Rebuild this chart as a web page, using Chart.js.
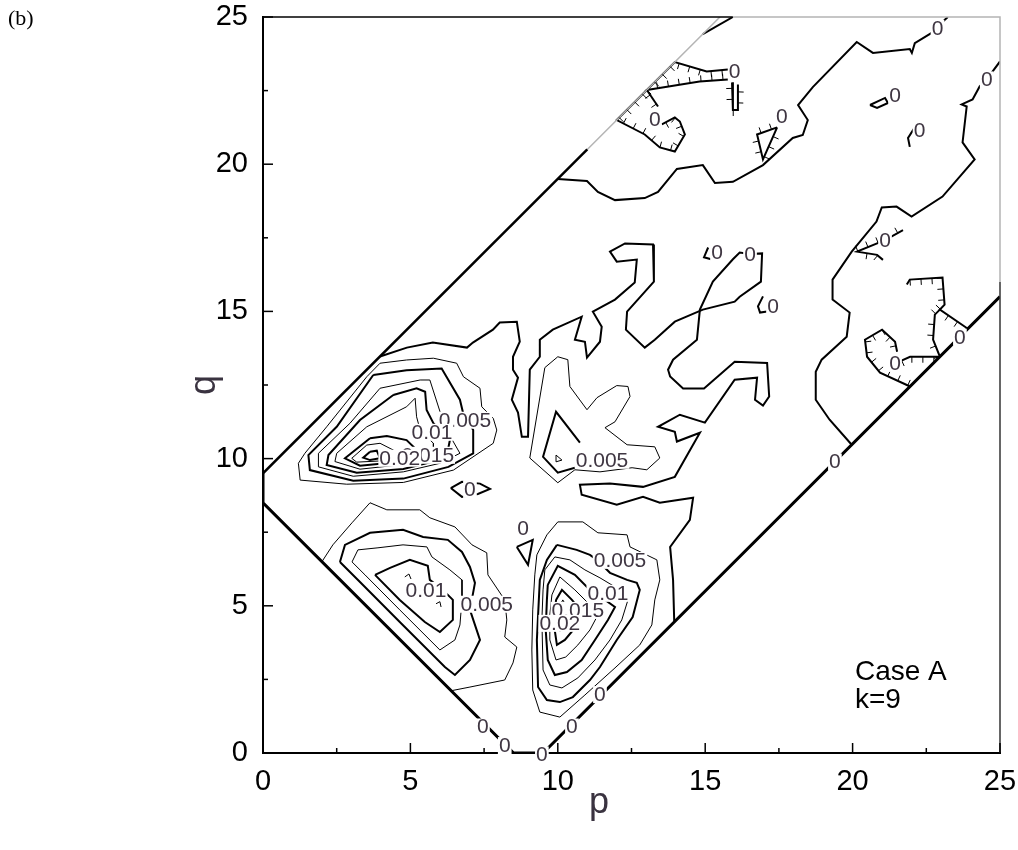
<!DOCTYPE html>
<html>
<head>
<meta charset="utf-8">
<script src="https://cdn.jsdelivr.net/npm/chart.js@4.4.0/dist/chart.umd.min.js"></script>
<style>
  html, body { margin: 0; padding: 0; background: #fff; }
</style>
</head>
<body>
<canvas id="myChart" width="1018" height="850"></canvas>
<script>
const ctx = document.getElementById("myChart");

// ejes
const majorTicks = [0, 5, 10, 15, 20, 25];
const minorTicks = [2.5, 7.5, 12.5, 17.5, 22.5];

// borde del dominio
const edgeUpper = [[0, 9.5], [11.0, 20.5]];
const edgeUpperGray = [[11.0, 20.5], [15.5, 25]];
const edgeLower = [[0, 9.5], [0, 8.5], [8.5, 0], [9.5, 0], [25, 15.5]];

// contornos 0 (gruesos)
const zeroTop = [[10.0,19.5],[10.99,19.43],[11.36,19.06],[11.94,18.78],[12.95,18.85],[13.40,19.06],[14.04,19.84],[14.92,19.97],[15.33,19.36],[15.94,19.40],[16.96,19.97],[17.97,20.89],[18.31,20.99],[18.48,21.50],[18.15,22.01],[18.65,22.62],[20.14,24.15],[20.69,23.78],[21.94,23.91],[22.01,23.78],[22.11,24.11],[22.68,24.46],[22.88,24.63],[23.12,24.90],[23.23,25.0]];
const zeroCorner = [[14.92,24.42],[15.94,25.0]];
const zeroRight = [[25.0,23.49],[24.55,22.88],[24.31,22.64],[24.07,22.2],[23.7,22.03],[23.87,21.96],[23.73,20.74],[24.14,20.16],[23.05,18.9],[22.0,18.22],[21.49,18.56],[20.99,18.53],[20.81,18.05],[19.97,17.03],[19.32,16.08],[19.32,15.4],[19.9,14.96],[19.8,14.14],[18.95,13.36],[18.75,12.95],[18.75,12.0],[19.22,11.32],[19.97,10.47]];
const zeroMid1 = [[3.97,13.47],[4.88,13.77],[5.76,13.94],[6.92,13.77],[7.12,13.94],[7.80,14.38],[8.03,14.62],[8.61,14.65],[8.71,13.97],[8.48,13.46],[8.48,13.02],[8.65,12.75],[8.44,12.0],[8.65,11.56],[8.78,10.74],[8.99,10.74],[9.05,13.02],[9.39,13.46],[9.39,14.04],[9.83,14.38],[10.81,14.82],[10.58,14.04],[10.92,13.97],[10.99,13.43],[11.43,13.97],[11.49,14.48],[11.19,14.99],[11.94,15.4],[12.61,15.98],[12.68,16.76],[12.0,16.69],[11.77,17.03],[12.28,17.31],[13.23,17.27],[13.26,16.01],[12.35,14.99],[12.31,14.38],[12.95,13.77],[13.29,14.04],[13.97,14.65],[14.92,15.06],[16.0,15.33],[16.17,15.5],[16.89,16.01],[16.93,16.97],[16.52,16.95]];
const zeroMid2 = [[16.52,16.95],[16.17,17.0],[15.94,16.77],[15.26,16.01],[14.82,15.06],[14.72,14.04],[13.91,13.36],[13.74,13.02],[13.81,12.79],[14.25,12.38],[14.96,12.38],[16.0,13.29],[17.1,13.25],[17.17,12.11],[16.96,11.8],[16.69,12.0],[16.76,12.75],[16.0,12.68],[14.99,11.22],[14.14,11.49],[13.4,11.08],[13.97,10.91],[14.04,10.58],[14.82,10.88],[13.97,9.38],[12.89,9.04],[11.77,9.15],[10.75,9.11],[10.81,8.77],[12.0,8.43],[12.89,8.7],[13.46,8.5],[14.59,8.67],[14.48,7.92],[13.81,7.0],[13.91,5.88],[13.95,4.45]];
const zeroSmall1 = [[15.1,17.17],[14.96,16.84],[15.2,16.77]];
const zeroSmall2 = [[16.96,15.51],[16.79,15.17],[16.86,14.96],[17.1,15.0]];
const zeroSmall3 = [[20.59,22.01],[21.1,22.25],[21.2,22.08],[20.83,21.91],[20.59,22.01]];
const zeroSmall4 = [[22.11,21.25],[21.88,20.89],[21.94,20.59]];
const zeroTri = [[8.61,7.0],[9.15,7.24],[8.99,6.39],[8.61,7.0]];
const zeroDiamond = [[6.37,9.0],[6.75,9.21],[7.36,9.15],[7.7,8.97],[7.29,8.8],[6.75,8.7],[6.37,9.0]];

// contornos 0 con rayado
const hatchA = [[15.77,23.22],[15.05,23.15],[13.97,23.47],[13.02,22.52],[14.81,22.81],[15.77,22.88]];
const hatchB = [[13.02,22.52],[12.0,21.5],[12.95,21.01],[13.46,20.57],[13.97,20.43],[14.31,21.01],[14.14,21.45],[13.97,21.59],[13.53,21.35]];
const hatchC = [[13.02,22.52],[13.40,21.96]];
const hatchU = [[15.91,22.78],[15.94,21.84],[16.08,21.84],[16.11,22.71]];
const hatchTri = [[17.44,21.25],[16.76,21.01],[16.96,20.16],[17.44,21.25]];
const hatchH7 = [[21.71,17.76],[21.1,17.42],[20.15,17.03],[20.83,16.92],[21.03,16.75]];
const hatchH8a = [[21.84,15.91],[21.94,16.08],[23.05,16.15],[23.12,15.23],[22.96,15.06],[23.91,14.41]];
const hatchH8b = [[22.96,15.06],[22.79,14.89],[22.73,14.04],[22.96,13.46]];
const hatchH8c = [[22.96,13.46],[21.95,13.46],[21.6,13.3]];
const hatchH9 = [[21.51,13.63],[21.44,13.97],[21.0,14.38],[20.42,14.04],[20.49,13.46],[20.93,12.92],[21.95,12.45]];

// lobulo superior izquierdo
const blob1 = [[3.97,13.24],[4.87,13.35],[5.78,13.41],[6.57,13.24],[6.80,12.78],[7.36,12.39],[7.42,11.76],[7.81,11.37],[7.93,10.97],[7.81,10.52],[6.46,9.61],[4.76,9.19],[2.84,9.13],[1.26,9.27],[1.20,9.84],[1.42,10.18],[2.16,11.08],[3.52,12.78],[3.97,13.24]];
const blob2 = [[3.74,12.84],[4.87,13.0],[6.06,13.06],[6.68,12.0],[6.79,11.54],[7.13,10.97],[7.13,10.18],[6.29,9.72],[4.76,9.32],[3.06,9.25],[1.59,9.61],[1.54,10.12],[2.50,11.08],[3.74,12.84]];
const blob3 = [[3.97,12.39],[5.33,12.67],[5.66,12.67],[6.06,11.42],[6.23,10.97],[6.68,10.18],[6.0,9.84],[4.76,9.55],[3.06,9.40],[1.88,9.72],[1.88,10.18],[2.95,11.20],[3.97,12.39]];
const blob4 = [[4.42,12.16],[5.21,12.39],[5.50,12.27],[5.55,11.65],[5.78,11.20],[6.34,10.63],[6.23,10.07],[5.78,9.90],[4.76,9.65],[3.18,9.52],[2.16,9.78],[2.22,10.12],[3.29,11.31],[4.42,12.16]];
const blob5 = [[4.87,11.76],[5.16,12.05],[5.21,11.42],[5.33,10.97],[5.78,10.52],[5.78,10.12],[4.76,9.80],[3.29,9.64],[2.44,9.90],[2.50,10.18],[3.52,11.08],[4.87,11.76]];
const blob6 = [[3.63,10.69],[4.20,10.77],[4.87,10.63],[5.33,10.18],[4.76,9.90],[3.29,9.76],[2.78,10.01],[3.63,10.69]];
const blob7 = [[3.52,10.46],[3.97,10.52],[4.42,10.29],[3.97,9.92],[3.18,9.88],[3.01,10.01],[3.52,10.46]];
const blob8 = [[3.63,10.23],[3.86,10.27],[3.97,10.01],[3.63,9.95],[3.40,10.03],[3.63,10.23]];

// lobulo inferior izquierdo
const lowL1 = [[2.0,6.5],[2.37,7.07],[3.02,7.82],[3.63,8.5],[4.2,8.26],[5.32,8.26],[5.66,7.99],[6.51,7.68],[7.09,7.07],[7.59,6.8],[7.63,6.05],[8.2,5.2],[8.27,4.52],[8.2,3.94],[8.61,3.6],[8.48,3.06],[8.2,2.48],[7.02,2.24],[6.41,2.12]];
const lowL2 = [[2.61,6.49],[2.78,7.07],[3.63,7.48],[4.75,7.58],[5.43,7.34],[6.27,7.24],[6.75,6.83],[7.02,6.32],[7.19,5.78],[7.02,4.86],[7.36,3.84],[7.02,3.16],[6.51,2.65],[6.17,2.92],[4.64,4.45],[3.29,5.81],[2.61,6.49]];
const lowL3 = [[3.02,6.49],[3.22,6.9],[3.9,6.97],[4.75,7.07],[5.56,7.0],[5.73,6.66],[6.34,6.22],[6.75,5.88],[6.75,5.2],[6.68,4.35],[6.51,3.84],[6.0,3.5],[4.64,4.86],[3.46,6.05],[3.02,6.49]];
const lowL4 = [[3.8,6.05],[4.31,6.29],[4.98,6.56],[5.59,6.36],[5.66,5.88],[6.1,5.54],[6.44,5.2],[6.44,4.52],[6.0,4.11],[5.49,4.45],[4.64,5.2],[3.8,6.05]];
const lowL5a = [[4.81,5.98],[4.95,6.08],[5.02,5.91]];
const lowL5b = [[5.87,5.07],[6.0,5.14],[6.04,4.96]];

// lobulo inferior derecho
const lowR1 = [[9.29,6.73],[9.63,7.41],[10.0,7.85],[10.85,7.85],[11.36,7.48],[12.35,7.41],[12.45,7.0],[13.36,6.56],[13.46,5.88],[13.29,5.2],[13.19,4.35],[12.78,3.67],[11.94,2.89],[10.92,1.97],[10.07,1.22],[9.39,1.39],[9.15,2.14],[9.12,3.5],[9.15,4.86],[9.22,6.05],[9.29,6.73]];
const lowR2 = [[9.97,7.07],[10.64,6.9],[11.09,6.73],[11.33,6.56],[11.77,6.12],[12.35,5.88],[12.68,5.78],[12.78,5.54],[12.54,4.62],[12.0,3.84],[11.43,2.92],[11.09,2.48],[10.51,1.9],[10.07,1.73],[9.63,1.8],[9.33,2.24],[9.29,3.84],[9.39,5.88],[9.63,6.56],[9.97,7.07]];
const lowR3 = [[9.56,6.22],[9.9,6.66],[10.41,6.56],[10.92,6.22],[11.43,5.95],[12.11,5.54],[12.38,5.2],[12.17,4.52],[11.77,3.84],[11.26,3.16],[10.68,2.55],[10.14,2.21],[9.73,2.31],[9.5,2.82],[9.46,4.52],[9.5,5.54],[9.56,6.22]];
const lowR4 = [[9.66,5.71],[10.0,6.36],[10.58,6.05],[11.09,5.54],[11.6,5.2],[11.94,4.96],[11.7,4.52],[11.26,3.84],[10.81,3.16],[10.31,2.75],[9.9,2.65],[9.66,3.16],[9.59,4.18],[9.63,5.2],[9.66,5.71]];
const lowR5 = [[9.8,5.37],[10.07,5.98],[10.58,5.54],[11.09,5.03],[11.36,4.69],[11.09,4.18],[10.68,3.67],[10.27,3.26],[9.94,3.16],[9.73,3.84],[9.73,4.69],[9.8,5.37]];
const lowR6 = [[9.94,5.2],[10.14,5.54],[10.48,5.2],[10.81,4.79],[10.58,4.25],[10.24,3.84],[9.97,3.67],[9.87,4.35],[9.94,5.2]];
const lowR7 = [[10.0,4.86],[10.17,5.2],[10.41,4.79],[10.24,4.35],[10.07,4.11],[9.97,4.52],[10.0,4.86]];

// zona central
const midThin = [[9.05,10.02],[9.56,13.09],[10.0,13.46],[10.34,13.36],[10.41,12.45],[10.99,11.66],[11.33,12.07],[12.0,12.48],[12.38,12.45],[12.45,12.11],[11.94,11.25],[11.6,11.05],[12.35,10.47],[13.29,10.4],[13.46,10.02],[13.02,9.62],[12.52,9.69],[11.43,9.55],[10.58,9.62],[10.0,9.18],[9.05,10.02]];
const midThick = [[10.75,10.54],[9.94,11.59],[9.5,10.06],[10.0,9.52],[10.58,9.69]];
const midTiny = [[9.94,10.12],[10.14,9.95],[9.94,9.89],[9.94,10.12]];

// etiquetas de los contornos
const labelText = ["0.005","0.01","0.015","0.02","0.005","0.01","0.005","0.005","0.01","0.015","0.02",
  "0","0","0","0","0","0","0","0","0","0","0","0","0","0","0","0","0","0","0","0","0"];
const labelP = [6.85,5.73,5.59,4.64,11.5,5.53,7.59,12.11,11.7,10.68,10.07,
  7.02,8.82,7.46,8.2,9.46,10.48,11.43,19.4,23.64,16.0,13.29,17.6,21.44,22.27,22.88,24.55,16.52,15.4,17.3,21.1,21.44];
const labelQ = [11.32,10.91,10.13,10.03,9.96,5.54,5.07,6.56,5.44,4.86,4.42,
  8.97,7.65,0.9,0.27,-0.05,0.9,2.0,9.9,14.14,23.15,21.52,21.62,22.35,21.15,24.63,22.88,16.95,17.0,15.17,17.42,13.25];

const toXY = arr => arr.map(d => ({ x: d[0], y: d[1] }));
const line = (arr, width, color, hatch) => ({
  data: toXY(arr), showLine: true, borderColor: color || "#000", borderWidth: width,
  pointRadius: 0, fill: false, tension: 0, hatch: hatch || 0,
});

const datasets = [
  line(edgeUpper, 2.5), line(edgeUpperGray, 1.5, "#b4b4b4"), line(edgeLower, 3),
  line(zeroTop, 2), line(zeroCorner, 2), line(zeroRight, 2), line(zeroMid1, 2), line(zeroMid2, 2),
  line(zeroSmall1, 2), line(zeroSmall2, 2), line(zeroSmall3, 2), line(zeroSmall4, 2),
  line(zeroTri, 2), line(zeroDiamond, 2),
  line(hatchA, 2, null, -1), line(hatchB, 2, null, -1), line(hatchC, 2, null, 1), line(hatchU, 2, null, 1),
  line(hatchTri, 2, null, 1), line(hatchH7, 2, null, 1), line(hatchH8a, 2, null, 1),
  line(hatchH8b, 2, null, 1), line(hatchH8c, 2, null, -1), line(hatchH9, 2, null, -1),
  line(blob1, 1), line(blob2, 2), line(blob3, 1), line(blob4, 2), line(blob5, 1), line(blob6, 2), line(blob7, 1), line(blob8, 2),
  line(lowL1, 1), line(lowL2, 2), line(lowL3, 1), line(lowL4, 2), line(lowL5a, 1), line(lowL5b, 1),
  line(lowR1, 1), line(lowR2, 2), line(lowR3, 1), line(lowR4, 2), line(lowR5, 1), line(lowR6, 2), line(lowR7, 1),
  line(midThin, 1), line(midThick, 2), line(midTiny, 1),
];

// rayas cortas sobre los contornos marcados
const hatchPlugin = {
  id: "hatch",
  afterDatasetsDraw(chart) {
    const c = chart.ctx;
    chart.data.datasets.forEach((ds, i) => {
      if (!ds.hatch) return;
      const pts = chart.getDatasetMeta(i).data;
      c.save();
      c.strokeStyle = "#000";
      c.lineWidth = 1;
      let carry = 6;
      for (let k = 0; k < pts.length - 1; k++) {
        const a = pts[k], b = pts[k + 1];
        const dx = b.x - a.x, dy = b.y - a.y, len = Math.hypot(dx, dy);
        if (!len) continue;
        const nx = -dy / len * ds.hatch, ny = dx / len * ds.hatch;
        let t = carry;
        while (t < len) {
          const x = a.x + dx * t / len, y = a.y + dy * t / len;
          c.beginPath();
          c.moveTo(x, y);
          c.lineTo(x + nx * 6, y + ny * 6);
          c.stroke();
          t += 11;
        }
        carry = t - len;
      }
      c.restore();
    });
  },
};

// etiquetas con fondo blanco
const labelPlugin = {
  id: "labels",
  afterDatasetsDraw(chart) {
    const c = chart.ctx, xs = chart.scales.x, ys = chart.scales.y;
    c.save();
    c.font = "21px 'Liberation Sans', Arial, sans-serif";
    c.textAlign = "center";
    c.textBaseline = "middle";
    labelText.forEach((t, i) => {
      const x = xs.getPixelForValue(labelP[i]);
      const y = ys.getPixelForValue(labelQ[i]);
      const w = c.measureText(t).width + 2;
      c.fillStyle = "#fff";
      c.fillRect(x - w / 2, y - 8, w, 17);
      c.fillStyle = "#3f3642";
      c.fillText(t, x, y + 1);
    });
    c.restore();
  },
};

// marco, marcas hacia dentro y textos
const framePlugin = {
  id: "frame",
  afterDraw(chart) {
    const c = chart.ctx, xs = chart.scales.x, ys = chart.scales.y;
    const a = chart.chartArea;
    c.save();
    c.lineWidth = 1.5;
    c.strokeStyle = "#000";
    c.beginPath();
    c.moveTo(a.left, a.top);
    c.lineTo(xs.getPixelForValue(15.94), a.top);
    c.stroke();
    c.strokeStyle = "#b4b4b4";
    c.beginPath();
    c.moveTo(xs.getPixelForValue(15.94), a.top);
    c.lineTo(a.right, a.top);
    c.lineTo(a.right, ys.getPixelForValue(16));
    c.stroke();
    c.strokeStyle = "#333";
    c.beginPath();
    c.moveTo(a.right, ys.getPixelForValue(16));
    c.lineTo(a.right, a.bottom);
    c.stroke();

    c.strokeStyle = "#000";
    c.lineWidth = 1.5;
    const tick = (v, len) => {
      const px = xs.getPixelForValue(v);
      c.beginPath(); c.moveTo(px, a.bottom); c.lineTo(px, a.bottom - len); c.stroke();
      const py = ys.getPixelForValue(v);
      c.beginPath(); c.moveTo(a.left, py); c.lineTo(a.left + len, py); c.stroke();
    };
    majorTicks.forEach(v => tick(v, 10));
    minorTicks.forEach(v => tick(v, 5));

    c.fillStyle = "#000";
    c.font = "28px 'Liberation Sans', Arial, sans-serif";
    c.textAlign = "left";
    c.textBaseline = "middle";
    c.fillText("Case A", xs.getPixelForValue(20.08), ys.getPixelForValue(2.75));
    c.fillText("k=9", xs.getPixelForValue(20.08), ys.getPixelForValue(1.8));

    c.fillStyle = "#3a3340";
    c.font = "36px 'Liberation Sans', Arial, sans-serif";
    c.textAlign = "center";
    c.fillText("p", xs.getPixelForValue(11.4), 803);
    c.save();
    c.translate(205, ys.getPixelForValue(12.5));
    c.rotate(-Math.PI / 2);
    c.fillText("q", 0, 0);
    c.restore();

    c.fillStyle = "#000";
    c.font = "22px 'Liberation Serif', 'Times New Roman', serif";
    c.textAlign = "left";
    c.fillText("(b)", 8, 19);
    c.restore();
  },
};

const tickFont = { size: 29, family: "'Liberation Sans', Arial, sans-serif" };

new Chart(ctx, {
  type: "scatter",
  data: { datasets: datasets },
  options: {
    responsive: false,
    animation: false,
    layout: { padding: { left: 0, right: 18, top: 17, bottom: 0 } },
    plugins: { legend: { display: false }, tooltip: { enabled: false } },
    scales: {
      x: {
        type: "linear", min: 0, max: 25,
        afterFit: s => { s.height = 97; s.paddingLeft = 0; s.paddingRight = 0; },
        grid: { display: false, drawTicks: false },
        border: { display: true, color: "#000", width: 2 },
        ticks: { stepSize: 5, padding: 12, color: "#000", font: tickFont },
      },
      y: {
        type: "linear", min: 0, max: 25,
        afterFit: s => { s.width = 263; s.paddingTop = 0; s.paddingBottom = 0; },
        grid: { display: false, drawTicks: false },
        border: { display: true, color: "#000", width: 2 },
        ticks: { stepSize: 5, padding: 15, color: "#000", font: tickFont },
      },
    },
  },
  plugins: [hatchPlugin, labelPlugin, framePlugin],
});
</script>
</body>
</html>
